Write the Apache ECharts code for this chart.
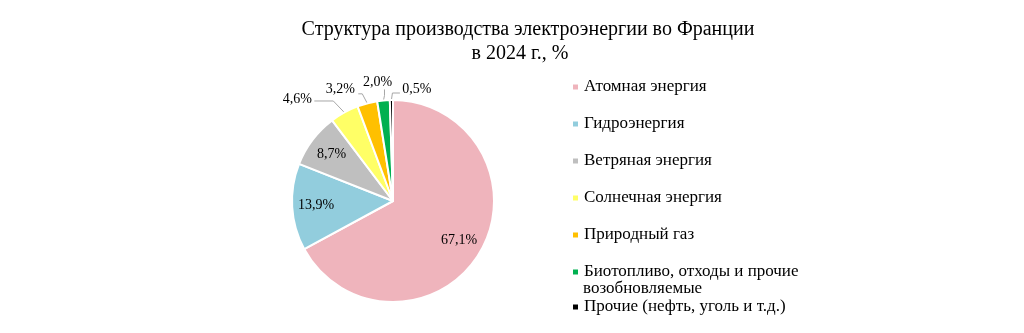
<!DOCTYPE html>
<html>
<head>
<meta charset="utf-8">
<script src="https://cdn.jsdelivr.net/npm/echarts@6/dist/echarts.min.js"></script>
<style>
  html, body { margin: 0; padding: 0; background: #fff; }
  #chart { width: 1024px; height: 333px; }
</style>
</head>
<body>
<div id="chart"></div>
<script>
// Electricity generation mix, France 2024 (%)
const sources = [
  'Атомная энергия',
  'Гидроэнергия',
  'Ветряная энергия',
  'Солнечная энергия',
  'Природный газ',
  'Биотопливо, отходы и прочие возобновляемые',
  'Прочие (нефть, уголь и т.д.)'
];
const shares = [67.1, 13.9, 8.7, 4.6, 3.2, 2.0, 0.5];
const colors = ['#EFB4BC', '#92CDDD', '#BFBFBF', '#FFFF66', '#FFC000', '#00B050', '#000000'];

// Large slices carry their value inside, the thin ones get a leader line.
const insideLabel = [true, true, true, false, false, false, false];

// Pie geometry
const PIE_CENTER = [393, 201];
const PIE_RADIUS = 101;
const INSIDE_LABEL_RATIO = 0.72;   // inside labels sit at this fraction of the radius

// Nudges for the thin top slices: label centre and leader-line bends,
// relative to where the line leaves the slice edge.
const calloutNudge = {
  3: { label: [-47, -13.5], line: [[-11, -11.5], [-30, -11.5]] },
  4: { label: [-27, -14],   line: [[-5, -9.5],   [-9, -9.5]] },
  5: { label: [-6, -18],    line: [[1, -5],      [1, -11]] },
  6: { label: [25.5, -10.5], line: [[1, -7],     [8.5, -7]] }
};

const serif = '"Liberation Serif", "Times New Roman", serif';

const chart = echarts.init(document.getElementById('chart'), null, { renderer: 'canvas' });

const data = sources.map((name, i) => ({
  name: name,
  value: shares[i],
  itemStyle: { color: colors[i] },
  label: { position: insideLabel[i] ? 'inside' : 'outside' },
  labelLine: { show: !insideLabel[i] }
}));

const legendText = { fontFamily: serif, fontSize: 17, color: '#000', lineHeight: 18 };
const legendCommon = {
  orient: 'vertical',
  left: 571,
  padding: 0,
  itemWidth: 7,
  itemHeight: 7,
  itemGap: 19,
  icon: 'rect',
  textStyle: legendText
};

// The bio entry wraps: its first line goes in the legend, the rest below it.
const wrapAt = 'Биотопливо, отходы и прочие'.length;

const titleFont = { fontFamily: serif, fontSize: 20, fontWeight: 'normal', color: '#000', lineHeight: 24 };

chart.setOption({
  animation: false,
  title: {
    text: 'Структура производства электроэнергии во Франции\n{l2|в 2024 г., %}',
    left: 523,
    top: 13,
    textAlign: 'center',
    textStyle: Object.assign({}, titleFont, {
      rich: { l2: Object.assign({}, titleFont, { padding: [0, 16, 0, 0] }) }
    })
  },
  legend: [
    Object.assign({}, legendCommon, {
      top: 78,
      data: sources.slice(0, 6),
      formatter: (name) => name.length > wrapAt + 5 ? name.slice(0, wrapAt) : name
    }),
    Object.assign({}, legendCommon, {
      top: 298,
      data: sources.slice(6)
    })
  ],
  graphic: [{
    type: 'text',
    left: 583,
    top: 280,
    silent: true,
    style: {
      text: sources[5].slice(wrapAt + 1),
      font: '17px ' + serif,
      fill: '#000'
    }
  }],
  series: [{
    type: 'pie',
    center: PIE_CENTER,
    radius: PIE_RADIUS,
    startAngle: 90,
    clockwise: true,
    avoidLabelOverlap: false,
    itemStyle: { borderColor: '#fff', borderWidth: 2 },
    label: {
      formatter: (p) => p.value.toFixed(1).replace('.', ',') + '%',
      fontFamily: serif,
      fontSize: 14,
      color: '#000'
    },
    labelLine: {
      length: 10,
      length2: 12,
      lineStyle: { color: '#A6A6A6', width: 1 }
    },
    labelLayout: function (params) {
      const i = params.dataIndex;
      if (insideLabel[i]) {
        // push the label from mid-radius out towards the rim
        const r = params.labelRect;
        const cx = r.x + r.width / 2;
        const cy = r.y + r.height / 2;
        const k = INSIDE_LABEL_RATIO / 0.5 - 1;
        return { dx: (cx - PIE_CENTER[0]) * k, dy: (cy - PIE_CENTER[1]) * k };
      }
      const nudge = calloutNudge[i];
      const start = params.labelLinePoints[0];
      return {
        x: start[0] + nudge.label[0],
        y: start[1] + nudge.label[1],
        align: 'center',
        verticalAlign: 'middle',
        labelLinePoints: [
          [start[0], start[1]],
          [start[0] + nudge.line[0][0], start[1] + nudge.line[0][1]],
          [start[0] + nudge.line[1][0], start[1] + nudge.line[1][1]]
        ]
      };
    },
    data: data
  }]
});
</script>
</body>
</html>
